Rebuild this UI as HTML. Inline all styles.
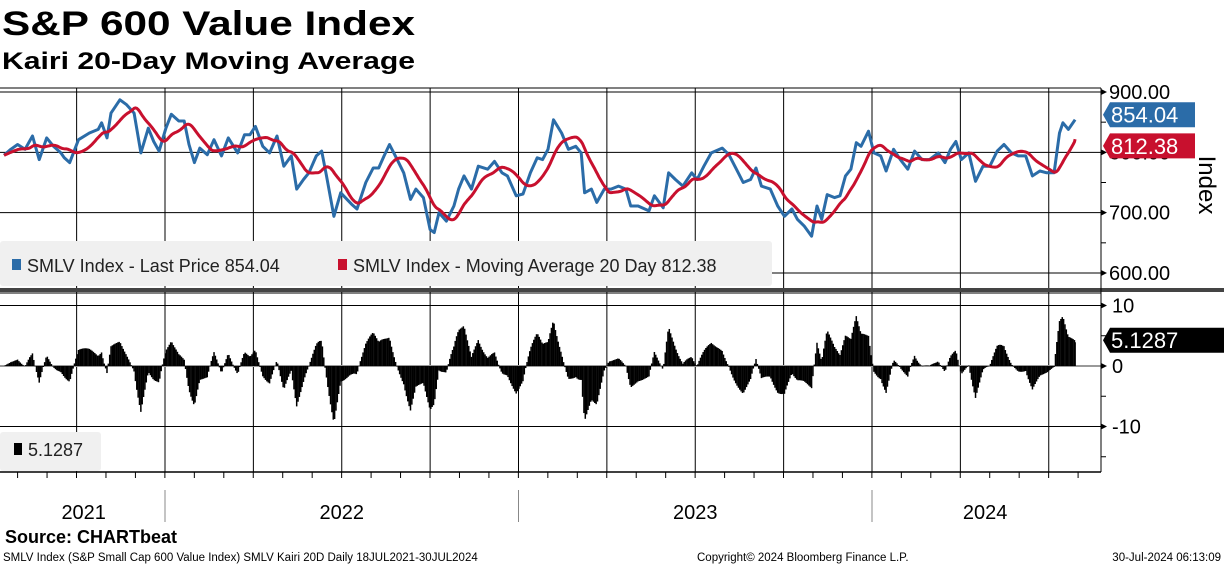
<!DOCTYPE html>
<html><head><meta charset="utf-8"><style>
html,body{margin:0;padding:0;background:#fff;}
svg{display:block;font-family:"Liberation Sans","DejaVu Sans",sans-serif;}
</style></head><body>
<svg id="chart" width="1224" height="566" viewBox="0 0 1224 566">
<text x="2" y="35" font-size="34" font-weight="bold" textLength="413" lengthAdjust="spacingAndGlyphs">S&amp;P 600 Value Index</text>
<text x="2" y="69" font-size="24" font-weight="bold" textLength="413" lengthAdjust="spacingAndGlyphs">Kairi 20-Day Moving Average</text>
<g id="grid"></g>
<g id="upper"></g>
<g id="lower"></g>
<g id="axes"></g>
<rect x="0" y="241" width="772" height="45" rx="3" fill="#f0f0f0"/>
<rect x="12" y="259" width="9" height="11" fill="#2b6ca8"/>
<text x="27" y="272" font-size="18" fill="#222">SMLV Index - Last Price 854.04</text>
<rect x="338" y="259" width="9" height="11" fill="#c8102e"/>
<text x="353" y="272" font-size="18" fill="#222">SMLV Index - Moving Average 20 Day 812.38</text>
<rect x="0" y="432" width="101" height="39" rx="3" fill="#f0f0f0"/>
<rect x="14" y="443" width="8" height="12" fill="#000"/>
<text x="28" y="456" font-size="18" fill="#222">5.1287</text>
<text x="5" y="543" font-size="18" font-weight="bold">Source: CHARTbeat</text>
<text x="3" y="561" font-size="11.5">SMLV Index (S&amp;P Small Cap 600 Value Index) SMLV Kairi 20D  Daily 18JUL2021-30JUL2024</text>
<text x="697" y="561" font-size="11.5">Copyright© 2024 Bloomberg Finance L.P.</text>
<text x="1221" y="561" font-size="11.5" text-anchor="end">30-Jul-2024 06:13:09</text>
<text transform="translate(1199,185) rotate(90)" font-size="24" text-anchor="middle">Index</text>
</svg>
<script>
const weeks=[0,1.0,2.0,3.1,4.2,5.2,6.3,7.3,8.4,8.9,9.7,11.0,12.6,13.9,14.4,15.2,15.8,17.1,18.1,19.2,20.2,21.3,22.1,22.9,23.9,24.7,25.8,26.6,27.3,28.1,28.9,30.0,31.0,32.1,33.1,34.5,35.5,36.3,37.1,38.2,39.2,40.3,41.3,42.4,43.2,44.2,45.0,46.1,46.9,47.6,48.7,49.7,51.3,52.1,53.4,54.5,55.3,56.1,56.9,57.9,59.0,60.0,60.8,61.9,62.9,63.5,64.2,65.3,66.4,67.1,67.9,69.0,70.0,71.4,72.4,73.5,74.3,75.6,76.6,77.7,78.7,79.5,80.3,81.1,82.3,83.3,84.4,85.2,85.7,86.7,87.5,88.6,89.6,90.7,91.8,92.5,93.6,95.2,96.0,97.3,98.1,99.1,100.2,101.5,102.3,103.3,104.4,106.0,107.0,108.1,109.1,110.2,111.0,111.8,113.1,114.2,115.2,116.3,117.1,118.1,119.2,120.0,120.7,121.5,122.6,123.4,124.2,125.0,125.8,126.5,127.6,128.4,129.4,130.2,131.3,132.3,133.4,134.4,135.5,136.6,137.9,138.9,139.7,140.5,141.3,142.4,143.4,144.5,145.5,146.6,147.6,148.7,149.7,150.8,151.8,152.9,153.9,155.0,155.8,156.3,157.1,158.1];
const prices=[795,805,813,805,827,788,824,810,799,791,783,821,832,838,849,824,865,887,879,865,799,840,818,802,840,863,852,852,813,783,807,796,821,794,824,799,829,829,843,810,799,827,777,794,739,755,766,794,802,761,694,733,714,706,750,774,774,794,813,791,766,722,739,725,672,667,700,686,711,739,761,739,777,772,785,766,761,728,731,766,791,788,805,854,832,805,810,799,733,739,717,739,739,744,739,711,711,703,728,708,766,755,744,766,755,777,799,807,796,772,750,755,774,744,739,711,694,706,689,678,661,711,689,730,725,728,761,772,816,810,835,799,794,769,805,788,772,802,788,788,799,783,805,818,788,799,752,777,777,802,813,799,794,794,761,769,766,766,832,849,838,854.04];
const yearLabels=["2021","2022","2023","2024"];
const yearLabelPos=[2021.77,2022.5,2023.5,2024.32];
const priceTicks=[900,800,700,600];
const kairiTicks=[10,0,-10];

const NS="http://www.w3.org/2000/svg";
function el(tag,attrs,parent){const e=document.createElementNS(NS,tag);for(const k in attrs)e.setAttribute(k,attrs[k]);parent.appendChild(e);return e;}
const X0=4, PXW=6.775;
function xW(w){return X0+w*PXW;}
function xY(yr){return 165+(yr-2022)*353.5;}
function yP(p){return 92+(900-p)*0.6033;}
function yK(k){return 366-k*6.05;}
const grid=document.getElementById('grid'),up=document.getElementById('upper'),lo=document.getElementById('lower'),ax=document.getElementById('axes');

let ln;
ln=el('line',{x1:0,x2:1101,y1:88,y2:88,stroke:'#000','stroke-width':1},grid);

for(let q=0;q<12;q++){
  const xx=xY(2021.75+q*0.25);
  ln=el('line',{x1:xx,x2:xx,y1:88,y2:472,stroke:'#000','stroke-width':1},grid);
  
}
priceTicks.forEach(p=>{
  ln=el('line',{x1:0,x2:1101,y1:yP(p),y2:yP(p),stroke:'#000','stroke-width':1},grid);
  
});
kairiTicks.forEach(k=>{
  ln=el('line',{x1:0,x2:1101,y1:yK(k),y2:yK(k),stroke:k===0?'#999':'#000','stroke-width':k===0?2:1},grid);
  
});
ln=el('line',{x1:0,x2:1101,y1:293,y2:293,stroke:'#000','stroke-width':1},grid);

ln=el('line',{x1:0,x2:1101,y1:472,y2:472,stroke:'#000','stroke-width':1.5},grid);

ln=el('rect',{x:0,y:288,width:1224,height:4,fill:'#444'},grid);


function interp(w){
  if(w<=weeks[0])return prices[0];
  for(let i=1;i<weeks.length;i++){if(w<=weeks[i]){const f=(w-weeks[i-1])/(weeks[i]-weeks[i-1]);return prices[i-1]+f*(prices[i]-prices[i-1]);}}
  return prices[prices.length-1];
}
const lastW=weeks[weeks.length-1];
const days=[];for(let d=0;d<=Math.round(lastW*5);d++)days.push(Math.min(d/5,lastW));
const dp=days.map(interp);
const ma=dp.map((v,i)=>{let s=0,n=0;for(let j=Math.max(0,i-19);j<=i;j++){s+=dp[j];n++;}return s/n;});
const kairi=dp.map((v,i)=>(v-ma[i])/ma[i]*100);

days.forEach((w,i)=>{
  const k=kairi[i],y0=yK(0),y1=yK(k);
  const b=el('rect',{x:xW(w)-0.75,y:Math.min(y0,y1),width:1.5,height:Math.abs(y1-y0),fill:'#000'},lo);
  
  
});
let pts=weeks.map((w,i)=>xW(w).toFixed(1)+','+yP(prices[i]).toFixed(1)).join(' ');
let pl=el('polyline',{points:pts,fill:'none',stroke:'#2b6ca8','stroke-width':3,'stroke-linejoin':'round'},up);

pts=days.map((w,i)=>xW(w).toFixed(1)+','+yP(ma[i]).toFixed(1)).join(' ');
pl=el('polyline',{points:pts,fill:'none',stroke:'#c8102e','stroke-width':3,'stroke-linejoin':'round'},up);


ln=el('line',{x1:1101,x2:1101,y1:88,y2:472,stroke:'#000','stroke-width':1},ax);

priceTicks.forEach(p=>{
  const t=el('path',{d:`M1101,${yP(p)-3} L1107,${yP(p)} L1101,${yP(p)+3}Z`,fill:'#000'},ax);
  
  const tx=el('text',{x:1109,y:yP(p)+7,'font-size':20},ax);tx.textContent=p.toFixed(2);
  
});
[850,750,650].forEach(p=>{
  const t=el('line',{x1:1101,x2:1106,y1:yP(p),y2:yP(p),stroke:'#000'},ax);
  
});
kairiTicks.forEach(k=>{
  const t=el('path',{d:`M1101,${yK(k)-3} L1107,${yK(k)} L1101,${yK(k)+3}Z`,fill:'#000'},ax);
  
  const tx=el('text',{x:1112,y:yK(k)+7,'font-size':20},ax);tx.textContent=k===-10?'-10':String(k);
  
});
[5,-5,-15].forEach(k=>{
  const t=el('line',{x1:1101,x2:1106,y1:yK(k),y2:yK(k),stroke:'#000'},ax);
  
});
function badge(y,color,txt,name,w){
  const g=el('g',{},ax);
  
  el('path',{d:`M1103,${y} L1110,${y-12.5} L${1103+w},${y-12.5} L${1103+w},${y+12.5} L1110,${y+12.5}Z`,fill:color},g);
  const t=el('text',{x:1111,y:y+8,'font-size':22,fill:'#fff'},g);t.textContent=txt;
}
badge(yP(812.38)+1,'#c8102e','812.38','ma-value-badge',92);
badge(yP(854.04)-5,'#2b6ca8','854.04','last-price-badge',92);
badge(yK(kairi[kairi.length-1])-2,'#000','5.1287','kairi-value-badge',121);

for(let m=0;m<37;m++){
  const xx=xY(2021.583+m/12);
  if(xx>1101)break;
  const t=el('line',{x1:xx,x2:xx,y1:472,y2:478,stroke:'#000'},ax);
  
}
[2022,2023,2024].forEach(yr=>{
  const t=el('line',{x1:xY(yr),x2:xY(yr),y1:490,y2:522,stroke:'#888'},ax);
  
});
yearLabels.forEach((l,i)=>{
  const t=el('text',{x:xY(yearLabelPos[i]),y:519,'font-size':20,'text-anchor':'middle'},ax);t.textContent=l;
  
});
</script>
</body></html>
